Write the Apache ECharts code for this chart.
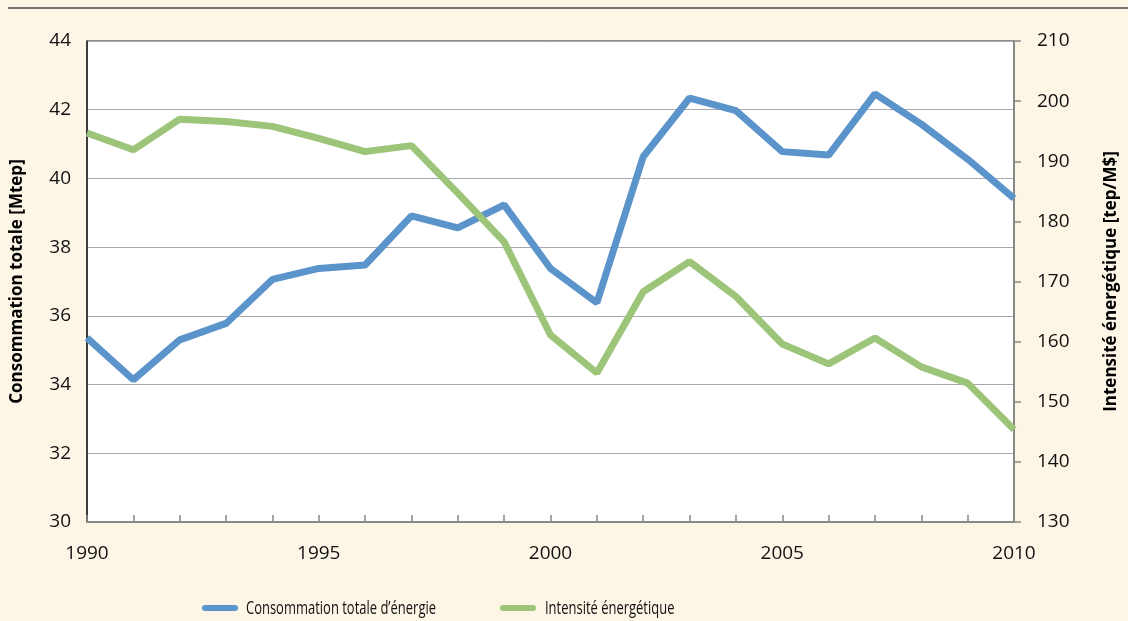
<!DOCTYPE html>
<html>
<head>
<meta charset="utf-8">
<script src="https://cdn.jsdelivr.net/npm/echarts@6/dist/echarts.min.js"></script>
<style>
html,body{margin:0;padding:0;background:#fdf6e7;}
#c{width:1128px;height:621px;}
</style>
</head>
<body>
<div id="c"></div>
<script>
const years = [1990,1991,1992,1993,1994,1995,1996,1997,1998,1999,2000,2001,2002,2003,2004,2005,2006,2007,2008,2009,2010];
const consommation = [35.36,34.14,35.30,35.78,37.06,37.38,37.48,38.91,38.56,39.23,37.38,36.38,40.63,42.34,41.97,40.78,40.68,42.46,41.58,40.56,39.42];
const intensite = [194.7,191.9,197.0,196.6,195.8,193.8,191.6,192.6,184.7,176.6,161.1,154.8,168.3,173.3,167.5,159.6,156.3,160.6,155.8,153.1,145.4];
const leftTicks = {min:30, max:44, interval:2};
const rightTicks = {min:130, max:210, interval:10};
const seriesNames = ['Consommation totale d\u2019énergie','Intensité énergétique'];
const axisTitles = ['Consommation totale [Mtep]','Intensité énergétique [tep/M$]'];
const colors = ['#5b93cb','#9cc57a'];

const font = '"Open Sans", sans-serif';
const legendFont = '19px "Open Sans", sans-serif';

// condensed legend (reference uses a condensed face): one common horizontal scale
const cv = document.createElement('canvas').getContext('2d');
cv.font = legendFont;
const legendScale = 190 / cv.measureText(seriesNames[0]).width;
const legendItems = [{x:202, textX:246}, {x:500, textX:545}];
const legendGraphics = [];
legendItems.forEach((it,i)=>{
  legendGraphics.push({type:'line', shape:{x1:it.x+3,y1:608,x2:it.x+33,y2:608},
    style:{stroke:colors[i], lineWidth:6, lineCap:'round'}});
  legendGraphics.push({type:'text', x:it.textX, y:609, scaleX:legendScale, scaleY:1,
    style:{text:seriesNames[i], font:legendFont, fill:'#111', verticalAlign:'middle', align:'left'}});
});

const chart = echarts.init(document.getElementById('c'));
chart.setOption({
  backgroundColor:'#fdf6e7',
  animation:false,
  graphic:[
    {type:'line', shape:{x1:8,y1:8,x2:1128,y2:8}, style:{stroke:'#4a4a4a', lineWidth:1.5}}
  ].concat(legendGraphics),
  grid:{left:87,right:112,top:41,bottom:99,show:true,backgroundColor:'#ffffff',borderColor:'#222',borderWidth:1},
  xAxis:{
    type:'value', min:1990, max:2010, interval:1,
    axisLine:{lineStyle:{color:'#888',width:2}},
    axisTick:{inside:true,length:7,lineStyle:{color:'#888',width:1.5}},
    splitLine:{show:false},
    axisLabel:{margin:22,fontFamily:font,fontSize:19,color:'#111',formatter:v=>v%5===0?String(v):''}
  },
  yAxis:[
    {type:'value', min:leftTicks.min, max:leftTicks.max, interval:leftTicks.interval,
     name:axisTitles[0], nameLocation:'middle', nameGap:61, nameRotate:90,
     nameTextStyle:{fontFamily:font,fontWeight:'bold',fontSize:17,color:'#000'},
     axisLine:{show:true,lineStyle:{color:'#222',width:1.5}},
     axisTick:{show:false},
     splitLine:{lineStyle:{color:'#a8a8ad',width:1.2}},
     axisLabel:{margin:16,fontFamily:font,fontSize:19,color:'#111',padding:[6,0,0,0]}},
    {type:'value', min:rightTicks.min, max:rightTicks.max, interval:rightTicks.interval, position:'right',
     name:axisTitles[1], nameLocation:'middle', nameGap:89, nameRotate:90,
     nameTextStyle:{fontFamily:font,fontWeight:'bold',fontSize:17,color:'#000'},
     axisLine:{show:true,lineStyle:{color:'#888',width:2}},
     axisTick:{show:true,length:7,lineStyle:{color:'#888',width:1.5}},
     splitLine:{show:false},
     axisLabel:{margin:23,fontFamily:font,fontSize:19,color:'#111',padding:[6,0,0,0]}}
  ],
  series:[
    {name:seriesNames[0], type:'line', yAxisIndex:0, symbol:'none', color:colors[0],
     lineStyle:{width:7,color:colors[0]}, data:years.map((y,i)=>[y,consommation[i]])},
    {name:seriesNames[1], type:'line', yAxisIndex:1, symbol:'none', color:colors[1],
     lineStyle:{width:7,color:colors[1]}, data:years.map((y,i)=>[y,intensite[i]])}
  ]
});
</script>
</body>
</html>
